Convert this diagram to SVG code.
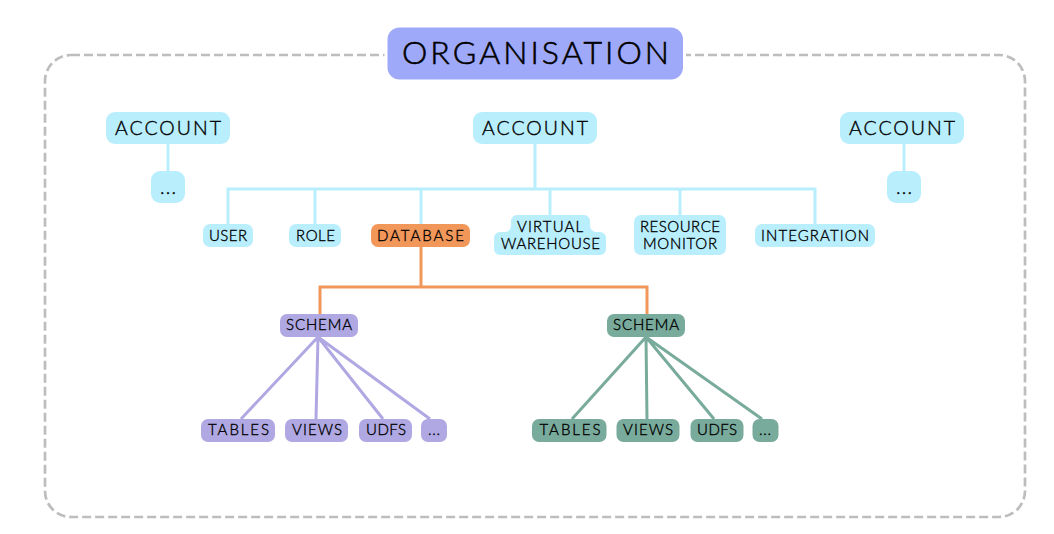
<svg xmlns="http://www.w3.org/2000/svg" width="1054" height="534" viewBox="0 0 1054 534">
<style>
text{font-family:"Lato","Liberation Sans",sans-serif;fill:#000;stroke:#000;stroke-width:.35px;font-size:15px;font-weight:300}
.lg{font-size:19.5px}
.xl{font-size:32px;stroke-width:.6px}
.blue{fill:#B9EEFD}
.org{fill:#F2975A}
.pur{fill:#AFA8E2}
.grn{fill:#78AB9C}
.c{fill:none;stroke-width:3}
.cb{stroke:#B9EEFD}
.co{stroke:#F2975A}
.cp{stroke:#AFA8E2}
.cg{stroke:#78AB9C}
</style>
<rect id="boundary" x="45" y="55" width="980" height="462" rx="26" fill="none" stroke="#BDBDBD" stroke-width="2.700" stroke-dasharray="9 4"/>
<g id="connectors">
<path class="c cb" d="M168 144V171M904 144V171M535 144V189M228 224V189H815V224M315 189V224M421 189V224M550 189V215M680 189V215"/>
<path class="c co" d="M421 247V287M320 314V287H647V314"/>
<path class="c cp" d="M318 337L241 419M318 337L316 419M318 337L383 419M318 337L430 419"/>
<path class="c cg" d="M646 337L572 419M646 337L647 419M646 337L714 419M646 337L762 419"/>
</g>
<g id="organisation"><rect x="384.500" y="24.500" width="301.500" height="58" rx="13" fill="#fff"/><rect x="387.500" y="27.500" width="295.500" height="52" rx="12" fill="#9FA9F9"/><text class="xl" x="402" y="64" textLength="267" lengthAdjust="spacing">ORGANISATION</text></g>
<g id="account-left"><rect class="blue" x="106" y="112" width="124" height="32" rx="9"/><text class="lg" x="115" y="135" textLength="106" lengthAdjust="spacing">ACCOUNT</text></g>
<g id="account-center"><rect class="blue" x="473" y="112" width="124" height="32" rx="9"/><text class="lg" x="482" y="135" textLength="106" lengthAdjust="spacing">ACCOUNT</text></g>
<g id="account-right"><rect class="blue" x="840" y="112" width="124" height="32" rx="9"/><text class="lg" x="849" y="135" textLength="106" lengthAdjust="spacing">ACCOUNT</text></g>
<g id="more-left"><rect class="blue" x="151" y="171" width="34" height="32" rx="9"/><text class="lg" x="160" y="194" textLength="16" lengthAdjust="spacing">...</text></g>
<g id="more-right"><rect class="blue" x="887" y="171" width="34" height="32" rx="9"/><text class="lg" x="896" y="194" textLength="16" lengthAdjust="spacing">...</text></g>
<g id="user"><rect class="blue" x="203" y="224" width="50" height="23" rx="7"/><text x="209" y="240.500" textLength="38" lengthAdjust="spacing">USER</text></g>
<g id="role"><rect class="blue" x="289" y="224" width="52" height="23" rx="7"/><text x="296" y="240.500" textLength="39" lengthAdjust="spacing">ROLE</text></g>
<g id="database"><rect class="org" x="371" y="224" width="99" height="23" rx="7"/><text x="377" y="240.500" textLength="87" lengthAdjust="spacing">DATABASE</text></g>
<g id="virtual-warehouse"><path class="blue" d="M517 215H584a6 6 0 0 1 6 6V226a6 6 0 0 0 6 6H600a6 6 0 0 1 6 6V249a6 6 0 0 1-6 6H500a6 6 0 0 1-6-6V238a6 6 0 0 1 6-6H505a6 6 0 0 0 6-6V221a6 6 0 0 1 6-6z"/><text x="517" y="232" textLength="66" lengthAdjust="spacing">VIRTUAL</text><text x="501" y="249.300" textLength="99" lengthAdjust="spacing">WAREHOUSE</text></g>
<g id="resource-monitor"><rect class="blue" x="634" y="215" width="92" height="40" rx="7"/><text x="640" y="232" textLength="80" lengthAdjust="spacing">RESOURCE</text><text x="643" y="249.300" textLength="74" lengthAdjust="spacing">MONITOR</text></g>
<g id="integration"><rect class="blue" x="755" y="224" width="120" height="23" rx="7"/><text x="761" y="240.500" textLength="108" lengthAdjust="spacing">INTEGRATION</text></g>
<g id="schema-left"><rect class="pur" x="280" y="314" width="78" height="23" rx="7"/><text x="286" y="330" textLength="66" lengthAdjust="spacing">SCHEMA</text></g>
<g id="schema-right"><rect class="grn" x="607" y="314" width="78" height="23" rx="7"/><text x="613" y="330" textLength="66" lengthAdjust="spacing">SCHEMA</text></g>
<g id="tables-left"><rect class="pur" x="201" y="419" width="74" height="23" rx="7"/><text x="208" y="435" textLength="61" lengthAdjust="spacing">TABLES</text></g>
<g id="views-left"><rect class="pur" x="285" y="419" width="63" height="23" rx="7"/><text x="292" y="435" textLength="50" lengthAdjust="spacing">VIEWS</text></g>
<g id="udfs-left"><rect class="pur" x="359" y="419" width="53" height="23" rx="7"/><text x="366" y="435" textLength="40" lengthAdjust="spacing">UDFS</text></g>
<g id="more-schema-left"><rect class="pur" x="421" y="419" width="26" height="23" rx="7"/><text x="428" y="435" textLength="12" lengthAdjust="spacing">...</text></g>
<g id="tables-right"><rect class="grn" x="532" y="419" width="74.500" height="23" rx="7"/><text x="539.500" y="435" textLength="61" lengthAdjust="spacing">TABLES</text></g>
<g id="views-right"><rect class="grn" x="616.500" y="419" width="63" height="23" rx="7"/><text x="623" y="435" textLength="50" lengthAdjust="spacing">VIEWS</text></g>
<g id="udfs-right"><rect class="grn" x="690.500" y="419" width="53" height="23" rx="7"/><text x="697" y="435" textLength="40" lengthAdjust="spacing">UDFS</text></g>
<g id="more-schema-right"><rect class="grn" x="752.500" y="419" width="26" height="23" rx="7"/><text x="759" y="435" textLength="12" lengthAdjust="spacing">...</text></g>
</svg>
